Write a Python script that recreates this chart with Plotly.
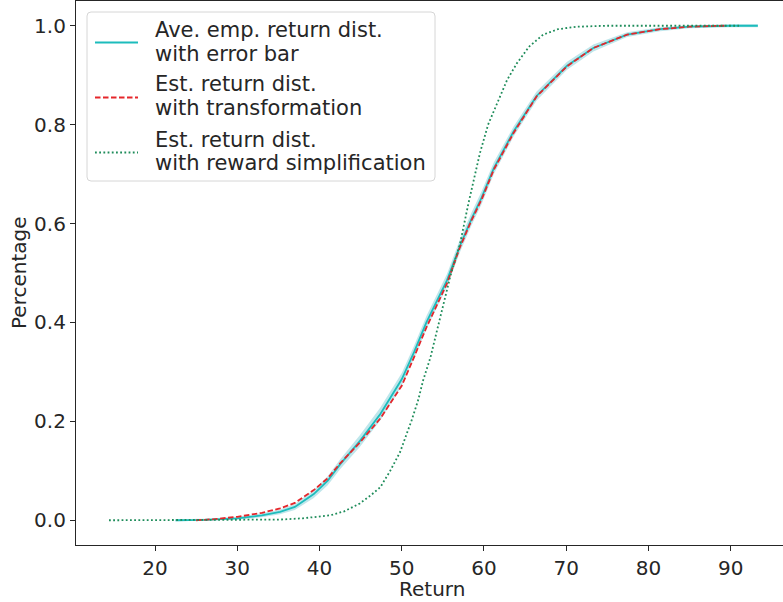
import plotly.graph_objects as go

# Ave. empirical return distribution (with error band)
emp_x = [22.5, 26.0, 30.0, 33.0, 35.2, 37.0, 39.3, 41.0, 42.5, 44.9, 47.4, 48.8, 50.0, 51.5,
         53.0, 55.5, 57.1, 58.5, 59.7, 61.2, 63.6, 66.4, 70.1, 73.3, 77.4, 81.4, 85.0, 90.0, 93.3]
emp_y = [0.000, 0.001, 0.004, 0.010, 0.017, 0.027, 0.053, 0.080, 0.113, 0.160, 0.215, 0.252, 0.285, 0.340,
         0.400, 0.485, 0.556, 0.610, 0.652, 0.712, 0.786, 0.858, 0.919, 0.955, 0.982, 0.993, 0.998, 1.000, 1.000]
emp_err = [0.002, 0.002, 0.003, 0.004, 0.005, 0.006, 0.008, 0.009, 0.010, 0.012, 0.013, 0.013, 0.013, 0.013,
           0.013, 0.013, 0.013, 0.013, 0.013, 0.012, 0.010, 0.009, 0.008, 0.007, 0.005, 0.004, 0.003, 0.003, 0.003]

# Est. return distribution with transformation
trans_x = [25.0, 27.0, 30.0, 33.0, 35.2, 37.0, 39.3, 41.0, 42.5, 44.9, 47.4, 48.8, 50.0, 51.5,
           53.0, 55.5, 57.1, 58.5, 59.7, 61.2, 63.6, 66.4, 70.1, 73.3, 77.4, 81.4, 85.0, 89.3]
trans_y = [0.000, 0.002, 0.007, 0.015, 0.024, 0.035, 0.061, 0.085, 0.115, 0.157, 0.206, 0.243, 0.272, 0.330,
           0.390, 0.479, 0.553, 0.607, 0.648, 0.709, 0.783, 0.857, 0.918, 0.955, 0.982, 0.993, 0.998, 1.000]

# Est. return distribution with reward simplification
simp_x = [14.4, 25.0, 30.0, 35.2, 38.0, 41.3, 43.0, 44.9, 46.2, 47.4, 48.6, 49.8, 51.2, 52.0, 52.6,
          53.5, 54.5, 55.9, 57.1, 58.1, 59.5, 60.5, 61.6, 62.8, 64.0, 65.5, 67.2, 69.0, 71.3, 75.0, 91.0]
simp_y = [0.000, 0.000, 0.000, 0.0014, 0.004, 0.010, 0.018, 0.034, 0.050, 0.067, 0.100, 0.138, 0.202, 0.243, 0.283,
          0.330, 0.398, 0.493, 0.560, 0.640, 0.742, 0.800, 0.843, 0.890, 0.924, 0.958, 0.982, 0.993, 0.998, 1.000, 1.000]

x_ticks = [20, 30, 40, 50, 60, 70, 80, 90]
y_ticks = [0.0, 0.2, 0.4, 0.6, 0.8, 1.0]

legend_labels = [
    ["Ave. emp. return dist.", "with error bar"],
    ["Est. return dist.", "with transformation"],
    ["Est. return dist.", "with reward simplification"],
]

CYAN = "#1cbcbc"
RED = "#e5262b"
GREEN = "#1e8c5a"
TXT = "#262626"
FONT = "DejaVu Sans"
FS = 20
LFS = 21

# plot-area geometry (pixels) for placing the hand-made legend
PX0, PW, PY1, PH = 76, 707, 545, 544


def px(xp):
    return (xp - PX0) / PW


def py(yp):
    return (PY1 - yp) / PH


emp_lo = [y - e for y, e in zip(emp_y, emp_err)]
emp_hi = [y + e for y, e in zip(emp_y, emp_err)]

fig = go.Figure()
fig.add_trace(go.Scatter(x=emp_x, y=emp_lo, mode="lines", line=dict(width=0, color=CYAN),
                         showlegend=False, hoverinfo="skip"))
fig.add_trace(go.Scatter(x=emp_x, y=emp_hi, mode="lines", line=dict(width=0, color=CYAN),
                         fill="tonexty", fillcolor="rgba(170,222,228,0.75)",
                         showlegend=False, hoverinfo="skip"))
fig.add_trace(go.Scatter(x=emp_x, y=emp_y, mode="lines", line=dict(color=CYAN, width=1.8),
                         name=" ".join(legend_labels[0]), showlegend=False))
fig.add_trace(go.Scatter(x=trans_x, y=trans_y, mode="lines",
                         line=dict(color=RED, width=1.8, dash="5.5px,2.5px"),
                         name=" ".join(legend_labels[1]), showlegend=False))
fig.add_trace(go.Scatter(x=simp_x, y=simp_y, mode="lines",
                         line=dict(color=GREEN, width=1.8, dash="1.8px,2.4px"),
                         name=" ".join(legend_labels[2]), showlegend=False))

axis_common = dict(showgrid=False, zeroline=False, showline=True, linecolor=TXT, linewidth=1.2,
                   ticks="outside", ticklen=5, tickwidth=1.2, tickcolor=TXT,
                   tickfont=dict(family=FONT, size=FS, color=TXT))

# legend box (rounded rectangle)
bx0, bx1, by0, by1, r = 87, 435, 12, 181, 4
rx, ry = r / PW, r / PH
X0, X1, Y0, Y1 = px(bx0), px(bx1), py(by0), py(by1)
box_path = (f"M {X0+rx},{Y0} L {X1-rx},{Y0} Q {X1},{Y0} {X1},{Y0-ry} "
            f"L {X1},{Y1+ry} Q {X1},{Y1} {X1-rx},{Y1} L {X0+rx},{Y1} Q {X0},{Y1} {X0},{Y1+ry} "
            f"L {X0},{Y0-ry} Q {X0},{Y0} {X0+rx},{Y0} Z")
shapes = [dict(type="path", path=box_path, xref="paper", yref="paper",
               fillcolor="rgba(255,255,255,0.85)", line=dict(color="#d6d6d6", width=1), layer="above")]

sample_styles = [dict(color=CYAN, width=1.8), dict(color=RED, width=1.8, dash="5.5px,2.5px"),
                 dict(color=GREEN, width=1.8, dash="1.8px,2.4px")]
sample_y = [42.5, 97.5, 152.5]
text_y = [(29.5, 53.0), (84.0, 107.5), (139.0, 162.5)]

annotations = []
for i in range(3):
    shapes.append(dict(type="line", xref="paper", yref="paper", x0=px(95), x1=px(138),
                       y0=py(sample_y[i]), y1=py(sample_y[i]), line=sample_styles[i], layer="above"))
    for j in range(2):
        annotations.append(dict(text=legend_labels[i][j], xref="paper", yref="paper",
                                x=px(153), y=py(text_y[i][j] + 0.5), xanchor="left", yanchor="middle",
                                showarrow=False, font=dict(family=FONT, size=LFS, color=TXT)))

annotations += [
    dict(text="Return", xref="paper", yref="paper", x=px(432), y=py(589),
         xanchor="center", yanchor="middle", showarrow=False,
         font=dict(family=FONT, size=FS, color=TXT)),
    dict(text="Percentage", xref="paper", yref="paper", x=px(19), y=0.5,
         xanchor="center", yanchor="middle", textangle=-90, showarrow=False,
         font=dict(family=FONT, size=FS, color=TXT)),
]

fig.update_layout(
    width=783, height=602,
    margin=dict(l=76, r=0, t=1, b=57),
    paper_bgcolor="white", plot_bgcolor="white",
    font=dict(family=FONT, size=FS, color=TXT),
    xaxis=dict(range=[10.39, 96.36], tickvals=x_ticks, mirror=True, **axis_common),
    yaxis=dict(range=[-0.05, 1.05], tickvals=y_ticks, tickformat=".1f", mirror=False, **axis_common),
    showlegend=False,
    shapes=shapes,
    annotations=annotations,
)

fig.write_html("out.html")
